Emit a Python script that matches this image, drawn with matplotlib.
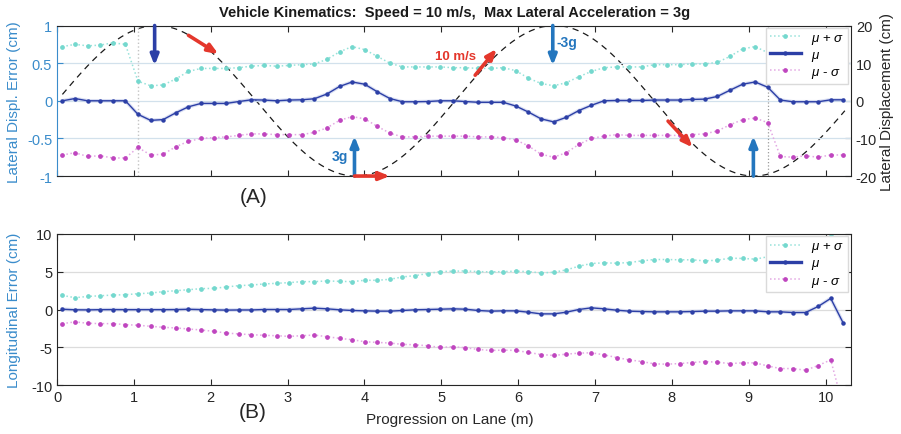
import numpy as np
import matplotlib
matplotlib.use("Agg")
import matplotlib.pyplot as plt

plt.rcParams['font.family'] = ['Liberation Sans', 'DejaVu Sans']
plt.rcParams['mathtext.fontset'] = 'custom'
plt.rcParams['mathtext.it'] = 'Liberation Sans:italic'
plt.rcParams['mathtext.rm'] = 'Liberation Sans'
plt.rcParams['axes.unicode_minus'] = False

# sample positions along the lane (m)
progression = np.linspace(0.07, 10.23, 63)

# (A) lateral displacement error (cm)
lat_hi = [0.72, 0.75, 0.73, 0.74, 0.77, 0.75, 0.26, 0.20, 0.21, 0.29, 0.39, 0.43, 0.43, 0.43, 0.44, 0.46,
          0.47, 0.46, 0.47, 0.48, 0.49, 0.55, 0.65, 0.72, 0.68, 0.59, 0.50, 0.45, 0.45, 0.45, 0.45,
          0.44, 0.44, 0.43, 0.43, 0.44, 0.40, 0.30, 0.23, 0.20, 0.24, 0.32, 0.39, 0.44, 0.45, 0.45, 0.45,
          0.48, 0.48, 0.48, 0.49, 0.49, 0.51, 0.59, 0.69, 0.72, 0.64, 0.74, 0.73, 0.75, 0.72, 0.74, 0.73]
lat_mu = [0.0, 0.03, 0.0, 0.0, 0.0, 0.0, -0.18, -0.26, -0.25, -0.16, -0.08, -0.035, -0.035, -0.035, -0.01, 0.013,
          0.01, 0.0, 0.01, 0.013, 0.027, 0.09, 0.19, 0.25, 0.22, 0.12, 0.03, -0.013, -0.013, -0.01, 0.0,
          0.0, -0.01, -0.02, -0.02, -0.02, -0.07, -0.15, -0.24, -0.28, -0.22, -0.13, -0.06, 0.0, 0.004, 0.004, 0.004,
          0.01, 0.01, 0.01, 0.018, 0.022, 0.058, 0.14, 0.22, 0.25, 0.18, 0.01, -0.013, -0.013, -0.013, 0.013, 0.013]
lat_lo = [-0.72, -0.69, -0.74, -0.73, -0.76, -0.76, -0.62, -0.72, -0.71, -0.61, -0.54, -0.50, -0.49, -0.48, -0.46, -0.44,
          -0.44, -0.45, -0.45, -0.45, -0.42, -0.36, -0.26, -0.21, -0.24, -0.34, -0.43, -0.48, -0.48, -0.47, -0.47,
          -0.47, -0.47, -0.48, -0.48, -0.49, -0.52, -0.60, -0.71, -0.75, -0.69, -0.58, -0.50, -0.47, -0.45, -0.46, -0.46,
          -0.46, -0.46, -0.46, -0.45, -0.44, -0.40, -0.32, -0.25, -0.23, -0.29, -0.74, -0.75, -0.73, -0.75, -0.72, -0.72]

# (B) longitudinal error (cm)
lon_hi = [1.87, 1.56, 1.73, 1.82, 1.91, 1.96, 2.09, 2.18, 2.36, 2.49, 2.62, 2.76, 2.80, 2.98, 3.16, 3.24,
          3.38, 3.47, 3.56, 3.69, 3.69, 3.78, 3.73, 3.69, 3.87, 3.87, 4.00, 4.31, 4.49, 4.76, 5.02,
          5.07, 5.11, 5.02, 4.98, 5.02, 5.07, 5.02, 4.84, 4.93, 5.24, 5.73, 6.09, 6.18, 6.13, 6.22, 6.44,
          6.62, 6.62, 6.58, 6.58, 6.44, 6.53, 6.80, 6.76, 6.67, 6.98, 7.00, 7.10, 7.00, 7.60, 9.70, 9.30]
lon_mu = [0.04, -0.04, -0.05, -0.02, -0.01, -0.02, -0.02, -0.02, -0.02, -0.01, 0.03, -0.01, -0.05, -0.08, -0.06, -0.06,
          0.0, 0.0, 0.0, 0.09, 0.18, 0.09, -0.04, -0.13, -0.18, -0.22, -0.22, -0.13, -0.04, 0.0, 0.04,
          0.09, 0.04, -0.13, -0.22, -0.18, -0.18, -0.36, -0.58, -0.58, -0.36, 0.0, 0.22, 0.09, -0.09, -0.22, -0.27,
          -0.31, -0.31, -0.31, -0.27, -0.22, -0.22, -0.18, -0.18, -0.18, -0.31, -0.31, -0.40, -0.40, 0.40, 1.47, -1.82]
lon_lo = [-1.87, -1.64, -1.82, -1.87, -1.87, -2.00, -2.09, -2.22, -2.36, -2.44, -2.58, -2.71, -2.89, -3.11, -3.24, -3.33,
          -3.42, -3.47, -3.56, -3.47, -3.38, -3.60, -3.82, -4.00, -4.27, -4.36, -4.44, -4.62, -4.67, -4.80, -5.02,
          -4.93, -5.07, -5.29, -5.42, -5.38, -5.42, -5.69, -5.96, -6.09, -5.91, -5.78, -5.73, -6.00, -6.36, -6.67, -6.89,
          -7.20, -7.24, -7.16, -7.02, -6.89, -6.98, -7.16, -7.07, -7.07, -7.47, -7.82, -7.82, -8.04, -7.42, -6.67, -12.9]

# reference path: 10 m/s, 3g peak lateral acceleration, 20 cm amplitude
speed = 10.0
accel = 3 * 9.81
amp_cm = 20.0
wavelength = 2 * np.pi * speed / np.sqrt(accel / (amp_cm / 100))
xs = np.linspace(progression[0], 10.25, 400)
path = amp_cm * np.sin(2 * np.pi * xs / wavelength)

cyan_ln = '#97E2DA'
cyan_mk = '#74D8CE'
blue = '#2C3FA6'
halo = '#B4BEE6'
mag_ln = '#E3A8E3'
mag_mk = '#BF45BF'
axblue = '#3A8CCB'
red = '#E4372C'
midblue = '#2476BE'
dark = '#262626'


def draw_stats(ax, hi, mu, lo):
    ax.plot(progression, hi, ':', color=cyan_ln, lw=1.1, marker='o', ms=2.4,
            mfc=cyan_mk, mec=cyan_mk, label=r'$\mu$ + $\sigma$')
    ax.plot(progression, mu, '-', color=halo, lw=2.6, alpha=0.5)
    ax.plot(progression, mu, '-', color=blue, lw=1.0, marker='o', ms=2.2,
            label=r'$\mu$')
    ax.plot(progression, lo, ':', color=mag_ln, lw=1.1, marker='o', ms=2.4,
            mfc=mag_mk, mec=mag_mk, label=r'$\mu$ - $\sigma$')
    leg = ax.legend(loc='upper right', bbox_to_anchor=(0.998, 0.995), borderaxespad=0.1,
                    fontsize=9.5, frameon=True, fancybox=False, framealpha=1,
                    edgecolor='#DADADA', handlelength=2.3, handletextpad=0.8,
                    labelspacing=0.22, borderpad=0.3)
    leg.get_lines()[1].set_linewidth(2.4)


def arrow(ax, x0, y0, x1, y1, color):
    ax.annotate('', xy=(x1, y1), xytext=(x0, y0),
                arrowprops=dict(arrowstyle='-|>,head_length=0.6,head_width=0.24',
                                color=color, lw=2.6, shrinkA=0, shrinkB=0))


fig = plt.figure(figsize=(9.01, 4.35), dpi=100)
ax1 = fig.add_axes([0.0633, 0.593, 0.8812, 0.346])
ax1r = ax1.twinx()
ax2 = fig.add_axes([0.0633, 0.1126, 0.8812, 0.3472])

# ---- panel A ----
ax1r.plot(xs, path, '--', color='#1A1A1A', lw=0.9, dashes=(5, 4))
ax1r.set_ylim(-20, 20)
ax1r.set_yticks([-20, -10, 0, 10, 20])
ax1r.tick_params(direction='in', length=4, labelsize=10.5, colors=dark)
ax1r.set_ylabel('Lateral Displacement (cm)', fontsize=11, color=dark)
ax1r.yaxis.set_label_coords(1.037, 0.5)
for s in ['left', 'top', 'bottom']:
    ax1r.spines[s].set_visible(False)
ax1r.spines['right'].set_color(dark)

ax1.set_zorder(ax1r.get_zorder() + 1)
ax1.patch.set_visible(False)
ax1.axvline(progression[6], color='#C4C4C4', ls=':', lw=1)
ax1.axvline(progression[56], color='#9A9A9A', ls=':', lw=0.9)
draw_stats(ax1, lat_hi, lat_mu, lat_lo)
ax1.set_xlim(0, 10.33)
ax1.set_ylim(-1, 1)
ax1.set_yticks([-1, -0.5, 0, 0.5, 1])
ax1.set_yticklabels(['-1', '-0.5', '0', '0.5', '1'])
ax1.set_xticks(range(11))
ax1.yaxis.grid(True, color='#D2E1EC', lw=0.9)
ax1.set_axisbelow(True)
ax1.tick_params(axis='x', direction='in', top=True, bottom=True, labelbottom=False,
                length=4, color=dark)
ax1.tick_params(axis='y', direction='in', length=4, colors=axblue, labelsize=10.5)
ax1.spines['left'].set_color(axblue)
ax1.spines['right'].set_visible(False)
ax1.spines['top'].set_color(dark)
ax1.spines['bottom'].set_color(dark)
ax1.set_ylabel('Lateral Displ. Error (cm)', fontsize=11, color=axblue)
ax1.yaxis.set_label_coords(-0.046, 0.5)

# acceleration / velocity arrows
arrow(ax1, 1.27, 1.0, 1.27, 0.47, blue)
arrow(ax1, 1.71, 0.87, 2.10, 0.62, red)
arrow(ax1, 3.87, -1.0, 3.87, -0.47, midblue)
arrow(ax1, 3.87, -1.0, 4.33, -1.0, red)
arrow(ax1, 5.44, 0.34, 5.72, 0.69, red)
arrow(ax1, 6.45, 1.0, 6.45, 0.47, midblue)
arrow(ax1, 7.95, -0.27, 8.27, -0.62, red)
arrow(ax1, 9.06, -1.0, 9.06, -0.47, midblue)
ax1.text(5.18, 0.59, '10 m/s', color=red, fontsize=9.5, fontweight='bold', ha='center', va='center')
ax1.text(3.68, -0.74, '3g', color=midblue, fontsize=10, fontweight='bold', ha='center', va='center')
ax1.text(6.63, 0.78, '-3g', color=midblue, fontsize=10, fontweight='bold', ha='center', va='center')

# ---- panel B ----
draw_stats(ax2, lon_hi, lon_mu, lon_lo)
ax2.set_xlim(0, 10.33)
ax2.set_ylim(-10, 10)
ax2.set_yticks([-10, -5, 0, 5, 10])
ax2.set_xticks(range(11))
ax2.yaxis.grid(True, color='#DCDCDC', lw=0.9)
ax2.set_axisbelow(True)
ax2.tick_params(direction='in', top=True, right=True, length=4, colors=dark, labelsize=10.5)
for s in ax2.spines.values():
    s.set_color(dark)
ax2.set_ylabel('Longitudinal Error (cm)', fontsize=11, color=axblue)
ax2.yaxis.set_label_coords(-0.046, 0.5)
ax2.set_xlabel('Progression on Lane (m)', fontsize=11, color=dark)
ax2.xaxis.set_label_coords(0.495, -0.18)

fig.text(0.505, 0.970, 'Vehicle Kinematics:  Speed = 10 m/s,  Max Lateral Acceleration = 3g',
         ha='center', va='center', fontsize=10.5, fontweight='bold', color='#1A1A1A')
fig.text(0.281, 0.547, '(A)', ha='center', va='center', fontsize=15, color=dark)
fig.text(0.280, 0.051, '(B)', ha='center', va='center', fontsize=15, color=dark)

fig.savefig('out.png', dpi=100)
